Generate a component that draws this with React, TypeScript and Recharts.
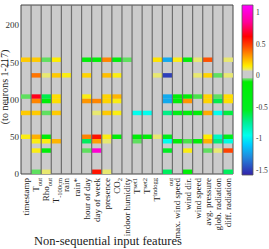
import React from "react";
import { BarChart, Bar, Cell, XAxis, YAxis, CartesianGrid, ReferenceArea, ReferenceLine } from "recharts";

const FONT = "'Liberation Serif', 'Times New Roman', serif";
const W = 269;
const H = 249;
const X_AXIS_H = 75;

// input features (columns), _{..} = subscript, ^{..} = superscript
const features = [
  "timestamp",
  "T_{out}",
  "Rho_{out}",
  "T_{-100cm}",
  "rain",
  "rain*",
  "hour of day",
  "day of week",
  "presence",
  "CO_{2}",
  "indoor humidity",
  "T^{set1}",
  "T^{set2}",
  "T^{indogg}",
  "_{out}",
  "max. wind speed",
  "wind dir.",
  "wind speed",
  "avg. pressure",
  "glob. radiation",
  "diff. radiation",
];

// neuron index where each band of weights starts
const bandStart = [150.5, 129.5, 101, 95, 79, 47, 41, 28.5, 0];
const bandHeight = 6;

// weight per band, one per feature (0 = no weight)
const bandA = [0.22, 0.22, -0.06, 0.15, 0, 0, -0.2, -0.2, 0.35, -0.25, -0.06, 0, 0, 0.17, -1.2, 0.14, -0.2, 0.09, 0.45, 0, 0.09];
const bandB = [0, 0.38, 0.09, 0.22, 0.14, 0, 0.2, 0, 0.24, 0.14, 0, 0, 0, 0.09, -1.5, 0, 0, 0.09, 0.2, -0.06, 0.09];
const bandC = [-0.06, 0.66, -0.62, 0.18, 0, 0, 0.14, 0, 0.2, 0.26, 0, 0, 0, 0, -1.2, -0.2, -0.2, -0.07, 0.2, -0.06, 0.18];
const bandD = [0, 0.35, -0.2, 0.18, 0, 0, 0.32, 0.35, 0.2, 0.14, 0, 0, 0, 0, -1.2, -0.2, 0.32, 0, 0.2, -0.62, 0.18];
const bandE = [0.22, 0.22, -0.06, 0.22, 0, 0, 0, 0.09, 0.22, 0.14, 0, -0.95, -0.95, 0, -0.72, -0.4, -0.25, -0.2, 0.28, -0.95, -0.6];
const bandF = [0.14, 0.27, -0.2, 0, 0, 0, 0.35, 0.58, 0.14, -0.2, 0, -0.2, -0.2, 0.09, -0.45, 0, 0, 0, 0.15, -0.85, -0.45];
const bandG = [0, 0.14, 0.14, 0.26, 0, 0, -0.65, 0.3, 0.09, 0, 0, -0.06, 0, 0, -0.95, -0.2, -0.07, -0.2, 0.27, -0.7, -0.92];
const bandH = [0, 0.14, -0.2, 0, 0, 0, -0.06, 1.0, 0, 0, 0, 0, 0, 0, -0.55, 0, 0.14, 0, -0.06, 0.09, 0.48];
const bandI = [0, -0.06, 0.09, 0, 0, 0, 0, 0.58, 0.09, 0, 0, 0, 0, 0, -0.65, 0, -0.2, 0, 0, 0, -0.65];
const bands = [bandA, bandB, bandC, bandD, bandE, bandF, bandG, bandH, bandI];

const yTicks = [0, 50, 100, 150, 200];
const cbTicks = [-1.5, -1, -0.5, 0, 0.5, 1];
const cbMin = -1.58;
const cbMax = 1.12;

const cmapStops: [number, string][] = [
  [-1.58, "#3322aa"],
  [-1.3, "#2288dd"],
  [-1.1, "#00ccff"],
  [-0.95, "#00ffee"],
  [-0.75, "#00ee99"],
  [-0.55, "#00ee22"],
  [-0.1, "#00ee00"],
  [-0.05, "#77dd77"],
  [-0.035, "#cbcbcb"],
  [0.07, "#cbcbcb"],
  [0.09, "#e8e870"],
  [0.15, "#ffee00"],
  [0.3, "#ffa000"],
  [0.45, "#ff5000"],
  [0.62, "#ff0000"],
  [0.85, "#ff0099"],
  [1.12, "#ff00ff"],
];

const hex = (c: string) => [1, 3, 5].map((i) => parseInt(c.slice(i, i + 2), 16));

function cmap(v: number) {
  if (v <= cmapStops[0][0]) return cmapStops[0][1];
  for (let i = 1; i < cmapStops.length; i++) {
    const [v1, c1] = cmapStops[i];
    if (v <= v1) {
      const [v0, c0] = cmapStops[i - 1];
      const t = (v - v0) / (v1 - v0);
      const a = hex(c0);
      const b = hex(c1);
      const rgb = a.map((x, k) => Math.round(x + (b[k] - x) * t));
      return `rgb(${rgb.join(",")})`;
    }
  }
  return cmapStops[cmapStops.length - 1][1];
}

// one row per feature, a [from, to] neuron range per band
const rows = features.map((f, col) => {
  const r: any = { feature: f };
  bands.forEach((vals, b) => {
    r[`b${b}`] = vals[col] !== 0 ? [bandStart[b], bandStart[b] + bandHeight] : null;
  });
  return r;
});

const cbData = [{ k: "cb", range: [cbMin, cbMax] }];

function renderLabel(s: string) {
  const parts: React.ReactNode[] = [];
  const re = /([_^])\{([^}]*)\}|([^_^]+)/g;
  let m: RegExpExecArray | null;
  let shift = 0;
  let k = 0;
  while ((m = re.exec(s))) {
    if (m[3]) {
      parts.push(
        <tspan key={k++} dy={-shift} fontSize={9}>
          {m[3]}
        </tspan>
      );
      shift = 0;
    } else {
      const d = m[1] === "_" ? 2.5 : -3.5;
      parts.push(
        <tspan key={k++} dy={d - shift} fontSize={6.5}>
          {m[2]}
        </tspan>
      );
      shift = d;
    }
  }
  return parts;
}

const renderFeatureTick = (props: any) => {
  const { x, payload } = props;
  return (
    <g transform={`translate(${x},${H - X_AXIS_H})`}>
      <text transform="rotate(-90)" x={-4} y={3} textAnchor="end" fontFamily={FONT} fill="#222">
        {renderLabel(String(payload.value))}
      </text>
    </g>
  );
};

export default function App() {
  return (
    <div style={{ position: "absolute", left: 0, top: 0, width: W, height: H, background: "#fff" }}>
      <div style={{ position: "absolute", left: 0, top: 0 }}>
        <BarChart
          width={W}
          height={H}
          data={rows}
          barCategoryGap={0}
          barGap={0}
          margin={{ top: 5, right: 36, left: 0, bottom: 0 }}
        >
          <CartesianGrid xAxisId="lab" fill="#cbcbcb" horizontal={false} vertical={false} />
          <XAxis
            xAxisId="lab"
            dataKey="feature"
            interval={0}
            tick={renderFeatureTick}
            tickLine={false}
            axisLine={false}
            tickSize={0}
            tickMargin={0}
            height={X_AXIS_H}
          />
          {bands.map((_, b) => (
            <XAxis key={b} xAxisId={`b${b}`} dataKey="feature" hide height={0} />
          ))}
          <YAxis
            type="number"
            domain={[0, 227]}
            ticks={yTicks}
            width={21}
            tickLine={false}
            axisLine={false}
            tickSize={2}
            tickMargin={0}
            tick={{ fontSize: 9, fill: "#333", fontFamily: FONT }}
          />
          {bands.map((vals, b) => (
            <Bar key={b} xAxisId={`b${b}`} dataKey={`b${b}`} isAnimationActive={false}>
              {vals.map((v, col) => (
                <Cell key={col} fill={cmap(v)} />
              ))}
            </Bar>
          ))}
          {features.slice(1).map((f) => (
            <ReferenceLine key={f} xAxisId="lab" x={f} position="start" stroke="#6e6e6e" strokeWidth={1.2} />
          ))}
          <ReferenceArea xAxisId="lab" y1={0} y2={227} fill="none" stroke="#444" strokeWidth={1} />
        </BarChart>
      </div>
      <div style={{ position: "absolute", left: 0, top: 0 }}>
        <BarChart
          width={W}
          height={H}
          data={cbData}
          barCategoryGap={0}
          margin={{ top: 5, right: 0, left: 242, bottom: 74 }}
        >
          <defs>
            <linearGradient id="cbGrad" x1="0" y1="0" x2="0" y2="1">
              {[...cmapStops].reverse().map(([v, c], i) => (
                <stop key={i} offset={(cbMax - v) / (cbMax - cbMin)} stopColor={c} />
              ))}
            </linearGradient>
          </defs>
          <XAxis dataKey="k" hide />
          <YAxis
            orientation="right"
            type="number"
            domain={[cbMin, cbMax]}
            ticks={cbTicks}
            width={16}
            tickLine={false}
            axisLine={false}
            tickSize={2}
            tickMargin={1}
            tick={{ fontSize: 7.5, fill: "#333", fontFamily: FONT, textAnchor: "start" }}
          />
          <Bar dataKey="range" fill="url(#cbGrad)" stroke="#555" strokeWidth={0.8} isAnimationActive={false} />
        </BarChart>
      </div>
      <svg width={W} height={H} style={{ position: "absolute", left: 0, top: 0, pointerEvents: "none" }}>
        <text transform="translate(8,87) rotate(-90)" textAnchor="middle" fontFamily={FONT} fontSize={10} fill="#222">
          (to neurons 1-217)
        </text>
        <text x={108} y={245} textAnchor="middle" fontFamily={FONT} fontSize={12.5} fill="#222">
          Non-sequential input features
        </text>
      </svg>
    </div>
  );
}
